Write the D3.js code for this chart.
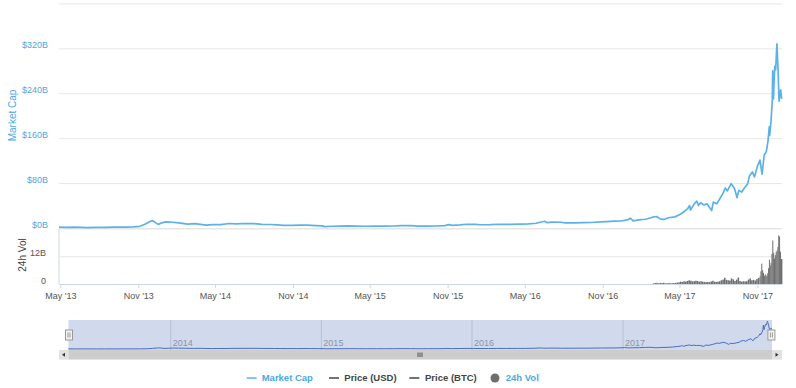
<!DOCTYPE html>
<html>
<head>
<meta charset="utf-8">
<script src="https://cdn.jsdelivr.net/npm/d3@7"></script>
<style>
  body { margin: 0; background: #fff; }
  svg { display: block; font-family: "Lucida Grande", "Lucida Sans Unicode", "Liberation Sans", Arial, sans-serif; }
</style>
</head>
<body>
<svg id="chart"></svg>
<script>
// market cap, billions USD
const mcapDates = [
  "2013-04-28","2013-05-15","2013-06-01","2013-06-20","2013-07-05","2013-07-25","2013-08-15","2013-09-05",
  "2013-10-01","2013-10-20","2013-11-05","2013-11-18","2013-11-30","2013-12-04","2013-12-10","2013-12-18",
  "2013-12-26","2014-01-06","2014-01-20","2014-02-05","2014-02-25","2014-03-15","2014-04-10","2014-04-25",
  "2014-05-15","2014-06-03","2014-06-20","2014-07-10","2014-08-01","2014-08-20","2014-09-10","2014-09-25",
  "2014-10-10","2014-11-01","2014-11-15","2014-12-05","2014-12-25","2015-01-10","2015-01-14","2015-02-01",
  "2015-02-20","2015-03-10","2015-03-30","2015-04-20","2015-05-15","2015-06-05","2015-06-25","2015-07-15",
  "2015-08-05","2015-08-25","2015-09-15","2015-10-10","2015-10-25","2015-11-04","2015-11-12","2015-12-01",
  "2015-12-15","2016-01-05","2016-01-18","2016-02-10","2016-03-01","2016-03-25","2016-04-20","2016-05-10",
  "2016-05-28","2016-06-17","2016-06-23","2016-07-05","2016-07-25","2016-08-05","2016-08-25","2016-09-15",
  "2016-10-05","2016-10-25","2016-11-10","2016-11-28","2016-12-15","2016-12-31","2017-01-05","2017-01-12",
  "2017-01-25","2017-02-10","2017-02-25","2017-03-08","2017-03-18","2017-03-25","2017-04-05","2017-04-20",
  "2017-05-01","2017-05-10","2017-05-20","2017-05-25","2017-05-27","2017-06-05","2017-06-11","2017-06-15",
  "2017-06-20","2017-06-28","2017-07-05","2017-07-16","2017-07-20","2017-07-28","2017-08-05","2017-08-12",
  "2017-08-17","2017-08-22","2017-08-31","2017-09-03","2017-09-08","2017-09-14","2017-09-18","2017-09-25",
  "2017-10-02","2017-10-09","2017-10-13","2017-10-20","2017-10-25","2017-11-01","2017-11-07","2017-11-12",
  "2017-11-17","2017-11-22","2017-11-26","2017-11-29","2017-11-30","2017-12-03","2017-12-06","2017-12-07",
  "2017-12-09","2017-12-10","2017-12-12","2017-12-14","2017-12-16","2017-12-17","2017-12-18","2017-12-20",
  "2017-12-22","2017-12-24","2017-12-26","2017-12-28"
];
const mcapValues = [
  1.5,1.2,1.4,1.2,0.8,1.0,1.2,1.4,
  1.4,2.0,3.0,7.0,12.0,13.2,10.5,6.5,
  9.0,11.0,10.2,9.0,7.0,7.8,5.0,6.0,
  6.0,8.0,7.5,8.0,7.7,6.5,6.2,5.5,
  4.8,4.5,5.2,5.0,4.4,3.8,2.5,3.1,
  3.4,3.9,3.4,3.1,3.4,3.2,3.6,4.2,
  4.1,3.2,3.4,3.7,4.3,6.0,4.8,5.4,
  6.7,6.6,5.8,5.9,6.7,6.5,7.0,7.2,
  8.5,12.0,9.5,10.5,10.2,9.0,9.3,9.7,
  9.8,10.9,11.5,12.1,12.5,15.0,17.5,12.8,
  14.4,15.6,18.8,20.5,15.8,15.2,18.2,19.8,
  23.5,28.0,34.0,40.0,32.0,43.0,48.0,40.0,
  45.0,41.0,43.0,31.0,46.0,43.0,53.0,62.0,
  71.0,66.0,79.0,76.0,70.0,54.0,67.0,64.0,
  72.0,79.0,92.0,100.0,91.0,110.0,121.0,96.0,
  130.0,136.0,155.0,180.0,165.0,190.0,225.0,280.0,
  230.0,255.0,288.0,282.0,312.0,328.0,310.0,275.0,
  226.0,238.0,246.0,230.0
];

// 24h volume, billions USD
const volDates = [
  "2017-03-01","2017-03-05","2017-03-09","2017-03-13","2017-03-17","2017-03-21","2017-03-25","2017-03-29",
  "2017-04-02","2017-04-06","2017-04-10","2017-04-14","2017-04-18","2017-04-22","2017-04-26","2017-04-30",
  "2017-05-04","2017-05-08","2017-05-12","2017-05-16","2017-05-20","2017-05-24","2017-05-28","2017-06-01",
  "2017-06-05","2017-06-09","2017-06-13","2017-06-17","2017-06-21","2017-06-25","2017-06-29","2017-07-03",
  "2017-07-07","2017-07-11","2017-07-15","2017-07-19","2017-07-23","2017-07-27","2017-07-31","2017-08-04",
  "2017-08-08","2017-08-12","2017-08-16","2017-08-20","2017-08-24","2017-08-28","2017-09-01","2017-09-05",
  "2017-09-09","2017-09-13","2017-09-17","2017-09-21","2017-09-25","2017-09-29","2017-10-03","2017-10-07",
  "2017-10-11","2017-10-15","2017-10-19","2017-10-23","2017-10-27","2017-10-31","2017-11-04","2017-11-08",
  "2017-11-10","2017-11-12","2017-11-14","2017-11-16","2017-11-18","2017-11-20","2017-11-22","2017-11-24",
  "2017-11-26","2017-11-28","2017-11-30","2017-12-02","2017-12-04","2017-12-06","2017-12-08","2017-12-10",
  "2017-12-12","2017-12-14","2017-12-16","2017-12-18","2017-12-20","2017-12-22","2017-12-24","2017-12-26",
  "2017-12-28"
];
const volValues = [
  0.3,0.4,0.5,0.3,0.5,0.4,0.5,0.3,
  0.3,0.4,0.3,0.3,0.4,0.5,0.6,0.7,
  1.0,0.9,1.2,1.0,1.3,1.6,1.4,1.1,
  1.2,1.4,1.3,1.0,1.2,1.0,0.9,0.8,
  0.9,0.8,1.1,1.4,1.0,0.9,1.0,1.2,
  1.6,1.9,2.7,1.8,1.6,1.5,2.4,2.0,
  1.3,1.9,2.8,1.3,1.0,1.2,1.1,1.2,
  1.9,2.4,1.6,1.8,1.5,2.2,2.6,3.3,
  5.5,8.8,6.0,4.8,3.5,4.2,3.7,3.4,
  4.6,6.8,10.5,8.0,9.2,13.0,18.8,13.5,
  11.0,12.5,13.8,14.5,16.0,21.0,20.5,14.0,
  10.8
];

const xTickDates = ["2013-05-01","2013-11-01","2014-05-01","2014-11-01","2015-05-01",
                    "2015-11-01","2016-05-01","2016-11-01","2017-05-01","2017-11-01"];
const mcapTicks = [0, 80, 160, 240, 320, 400];
const volTicks = [0, 12, 24];
const navYears = ["2014", "2015", "2016", "2017"];
const legendNames = ["Market Cap", "Price (USD)", "Price (BTC)", "24h Vol"];

const width = 796, height = 388;
const blue = "#5cb2e8", blueText = "#4fa7e0", volColor = "#6e6e6e";
const parse = d3.utcParse("%Y-%m-%d");

const mcap = mcapDates.map((d, i) => ({ date: parse(d), value: mcapValues[i] }));
const vol = volDates.map((d, i) => ({ date: parse(d), value: volValues[i] }));

const svg = d3.select("#chart").attr("width", width).attr("height", height);

// scales
const x = d3.scaleUtc().domain([Date.UTC(2013, 3, 28), Date.UTC(2017, 11, 29)]).range([59, 782]);
const yMain = d3.scaleLinear().domain([0, 400]).range([228, 3.4]);
const yVol = d3.scaleLinear().domain([0, 24]).range([284, 228.5]);

// main pane grid + labels
const mainAxis = d3.axisLeft(yMain)
  .tickValues(mcapTicks)
  .tickSize(-(782 - 59))
  .tickFormat(d => d === 400 ? "" : "$" + d + "B");
svg.append("g")
  .attr("transform", "translate(59,0)")
  .call(mainAxis)
  .call(g => g.select(".domain").remove())
  .call(g => g.selectAll("line").attr("stroke", "#e6e6e6"))
  .call(g => g.selectAll("text")
    .attr("x", -11).attr("dy", "-0.05em")
    .attr("fill", blueText).style("font-size", "9px"));

// volume pane grid + labels
const volAxis = d3.axisLeft(yVol)
  .tickValues(volTicks)
  .tickSize(-(782 - 59))
  .tickFormat(d => d === 24 ? "" : d === 0 ? "0" : d + "B");
svg.append("g")
  .attr("transform", "translate(59,0)")
  .call(volAxis)
  .call(g => g.select(".domain").attr("stroke", "#ccd6eb").attr("d", `M0,${yVol(24)}V${yVol(0)}`))
  .call(g => g.selectAll("line").attr("stroke", d => d === 0 ? "none" : "#e6e6e6"))
  .call(g => g.selectAll("text")
    .attr("x", -13).attr("dy", "-0.1em")
    .attr("fill", "#555").style("font-size", "9px"));

// axis titles
svg.append("text")
  .attr("transform", "translate(15.8,115.5) rotate(-90)")
  .attr("text-anchor", "middle")
  .attr("fill", blueText).style("font-size", "10px")
  .text("Market Cap");
svg.append("text")
  .attr("transform", "translate(26.2,255) rotate(-90)")
  .attr("text-anchor", "middle")
  .attr("fill", "#444").style("font-size", "10px")
  .text("24h Vol");

// volume bars
svg.append("g").selectAll("rect")
  .data(vol)
  .join("rect")
    .attr("x", d => x(d.date) - 0.8)
    .attr("y", d => yVol(d.value))
    .attr("width", (d, i) => i < vol.length - 1 ? Math.max(1, x(vol[i + 1].date) - x(d.date) - 0.15) : 1.6)
    .attr("height", d => yVol(0) - yVol(d.value))
    .attr("fill", volColor);

// x axis
const xAxis = d3.axisBottom(x)
  .tickValues(xTickDates.map(parse))
  .tickSize(4)
  .tickFormat(d3.utcFormat("%b '%y"));
svg.append("g")
  .attr("transform", "translate(0,284)")
  .call(xAxis)
  .call(g => g.select(".domain").attr("stroke", "#ccd6eb").attr("d", "M59,0.5H782"))
  .call(g => g.selectAll("line").attr("stroke", "#ccd6eb"))
  .call(g => g.selectAll("text").attr("y", 9).attr("fill", "#555").style("font-size", "9px"));

// market cap line
const line = d3.line().x(d => x(d.date)).y(d => yMain(d.value));
svg.append("path")
  .datum(mcap)
  .attr("d", line)
  .attr("fill", "none")
  .attr("stroke", blue)
  .attr("stroke-width", 1.7)
  .attr("stroke-linejoin", "round");

// navigator
const xNav = d3.scaleUtc().domain([Date.UTC(2013, 3, 28), Date.UTC(2017, 11, 28)]).range([68.4, 772]);
const yNav = d3.scaleLinear().domain([0, 330]).range([349, 321]);
const nav = svg.append("g");
nav.append("rect")
  .attr("x", xNav.range()[0]).attr("y", 320)
  .attr("width", xNav.range()[1] - xNav.range()[0]).attr("height", 30)
  .attr("fill", "rgba(102,133,194,0.3)");
nav.selectAll(".navgrid")
  .data(navYears)
  .join("line")
    .attr("x1", d => xNav(parse(d + "-01-01"))).attr("x2", d => xNav(parse(d + "-01-01")))
    .attr("y1", 320).attr("y2", 350)
    .attr("stroke", "#b4c0da");
nav.selectAll(".navlabel")
  .data(navYears)
  .join("text")
    .attr("x", d => xNav(parse(d + "-01-01")) + 2)
    .attr("y", 346)
    .attr("fill", "#8a93a6").style("font-size", "9px")
    .text(d => d);
nav.append("path")
  .datum(mcap)
  .attr("d", d3.line().x(d => xNav(d.date)).y(d => yNav(d.value)))
  .attr("fill", "none")
  .attr("stroke", "#4a6cc0")
  .attr("stroke-width", 1);

// navigator handles
[xNav.range()[0] + 0.6, xNav.range()[1] - 0.6].forEach(hx => {
  nav.append("rect")
    .attr("x", hx - 3.5).attr("y", 330).attr("width", 7).attr("height", 10)
    .attr("fill", "#f2f2f2").attr("stroke", "#999").attr("stroke-width", 1);
  [-1, 1].forEach(o => nav.append("line")
    .attr("x1", hx + o).attr("x2", hx + o).attr("y1", 332.5).attr("y2", 337.5)
    .attr("stroke", "#999"));
});

// scrollbar
const sb = svg.append("g");
sb.append("rect").attr("x", 59).attr("y", 350).attr("width", 723).attr("height", 9.5).attr("fill", "#f2f2f2");
sb.append("rect").attr("x", 68.4).attr("y", 350).attr("width", 703.6).attr("height", 9.5).attr("fill", "#cdcdcd");
sb.append("rect").attr("x", 59).attr("y", 350).attr("width", 9.4).attr("height", 9.5).attr("fill", "#e2e2e2");
sb.append("rect").attr("x", 772).attr("y", 350).attr("width", 10).attr("height", 9.5).attr("fill", "#e2e2e2");
sb.append("path").attr("d", "M65,352.8L62,354.8L65,356.8Z").attr("fill", "#333");
sb.append("path").attr("d", "M775.5,352.8L778.5,354.8L775.5,356.8Z").attr("fill", "#333");
[-2, 0, 2].forEach(o => sb.append("line")
  .attr("x1", 420 + o).attr("x2", 420 + o).attr("y1", 352.5).attr("y2", 357)
  .attr("stroke", "#333").attr("stroke-width", 0.8));

// legend
const legendX = [246.7, 329, 409.3, 495];
const legendTextX = [261.7, 344.3, 425, 505.7];
const legendColor = [blueText, "#444", "#444", blueText];
const legendY = 378;
const legend = svg.append("g");
legendNames.forEach((name, i) => {
  if (i < 3) {
    legend.append("line")
      .attr("x1", legendX[i]).attr("x2", legendX[i] + 10)
      .attr("y1", legendY).attr("y2", legendY)
      .attr("stroke", i === 0 ? blue : "#444").attr("stroke-width", 1.5);
  } else {
    legend.append("circle")
      .attr("cx", legendX[i]).attr("cy", legendY).attr("r", 4.5)
      .attr("fill", volColor);
  }
  legend.append("text")
    .attr("x", legendTextX[i]).attr("y", legendY + 3.4)
    .attr("fill", legendColor[i])
    .style("font-size", "9.5px").style("font-weight", "bold")
    .text(name);
});
</script>
</body>
</html>
